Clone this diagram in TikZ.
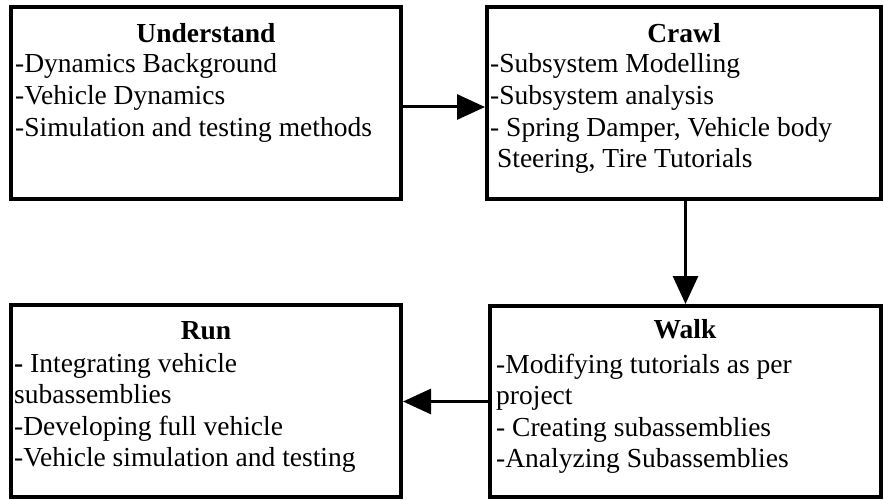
\documentclass[tikz,border=0pt]{standalone}
\usepackage{fontspec}
\setmainfont{Liberation Serif}
\usetikzlibrary{arrows.meta}

\begin{document}
\begin{tikzpicture}[x=1pt,y=-1pt,
  stage/.style={draw, line width=4pt, inner sep=0pt, fill=white},
  flow/.style={line width=3pt, -{Triangle[length=28pt,width=25pt]}},
  heading/.style={inner sep=0pt, anchor=base, font=\fontsize{27.5}{31.6}\selectfont\bfseries},
  body/.style={inner sep=0pt, anchor=base west, font=\fontsize{27.5}{31.6}\selectfont}
]
\useasboundingbox (0,0) rectangle (884,500);

% stage frames
\node[stage, minimum width=390pt, minimum height=192pt] (U) at (206,103) {};
\node[stage, minimum width=394pt, minimum height=192pt] (C) at (684,103) {};
\node[stage, minimum width=390pt, minimum height=192pt] (R) at (206,401) {};
\node[stage, minimum width=391pt, minimum height=191pt] (W) at (685.5,401.5) {};

% Understand
\node[heading] (Ut) at (206,43) {Understand};
\node[body] (Ub) at (15,73) {\begin{tabular}[t]{@{}l@{}}
-Dynamics Background\\
-Vehicle Dynamics\\
-Simulation and testing methods
\end{tabular}};

% Crawl
\node[heading] (Ct) at (684,43) {Crawl};
\node[body] (Cb) at (490,73) {\begin{tabular}[t]{@{}l@{}}
-Subsystem Modelling\\
-Subsystem analysis\\
- Spring Damper, Vehicle body\\
\ Steering, Tire Tutorials
\end{tabular}};

% Run
\node[heading] (Rt) at (206,339) {Run};
\node[body] (Rb) at (14,372) {\begin{tabular}[t]{@{}l@{}}
\textbf{-} Integrating vehicle\\
subassemblies\\
-Developing full vehicle\\
-Vehicle simulation and testing
\end{tabular}};

% Walk
\node[heading] (Wt) at (685,338) {Walk};
\node[body] (Wb) at (496,373) {\begin{tabular}[t]{@{}l@{}}
-Modifying tutorials as per\\
project\\
- Creating subassemblies\\
-Analyzing Subassemblies
\end{tabular}};

% connectors
\draw[flow] ([yshift=-4pt]U.east) -- ([yshift=-4pt]U.east -| C.west);
\draw[flow] (W.north |- C.south) -- (W.north);
\draw[flow] (W.west) -- (W.west -| R.east);
\end{tikzpicture}
\end{document}
